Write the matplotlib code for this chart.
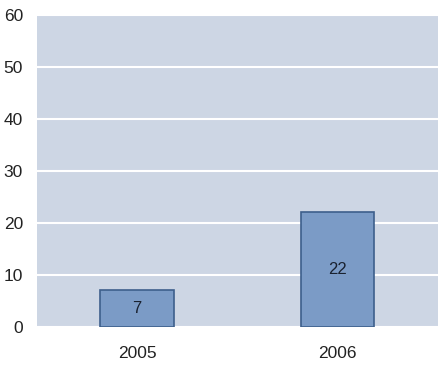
import numpy as np
import matplotlib.pyplot as plt

plt.rcParams['font.family'] = ['Liberation Sans', 'DejaVu Sans']

anios = ['2005', '2006']
valores = [7, 22]

fig = plt.figure(figsize=(4.44, 3.66), dpi=100)
ax = fig.add_axes([0.083, 0.107, 0.903, 0.852])
ax.set_facecolor('#cdd6e4')

x = np.arange(len(anios))
barras = ax.bar(x, valores, width=0.365, color='#7b9bc6', edgecolor='#3d5f8c', linewidth=1.2, zorder=3)
for b, v in zip(barras, valores):
    ax.text(b.get_x() + b.get_width() / 2, v / 2, str(v), ha='center', va='center',
            fontsize=12, color='#1a2230', zorder=4)

ax.set_xlim(-0.5, 1.5)
ax.set_ylim(0, 60)
ax.set_yticks(range(0, 61, 10))
ax.set_xticks(x)
ax.set_xticklabels(anios)
ax.yaxis.grid(True, color='white', linewidth=1.5, zorder=1)
ax.tick_params(length=0, labelsize=12.5, colors='#222222')
ax.tick_params(axis='x', pad=14)
ax.tick_params(axis='y', pad=10)
for s in ax.spines.values():
    s.set_visible(False)

fig.savefig('out.png', dpi=100)
